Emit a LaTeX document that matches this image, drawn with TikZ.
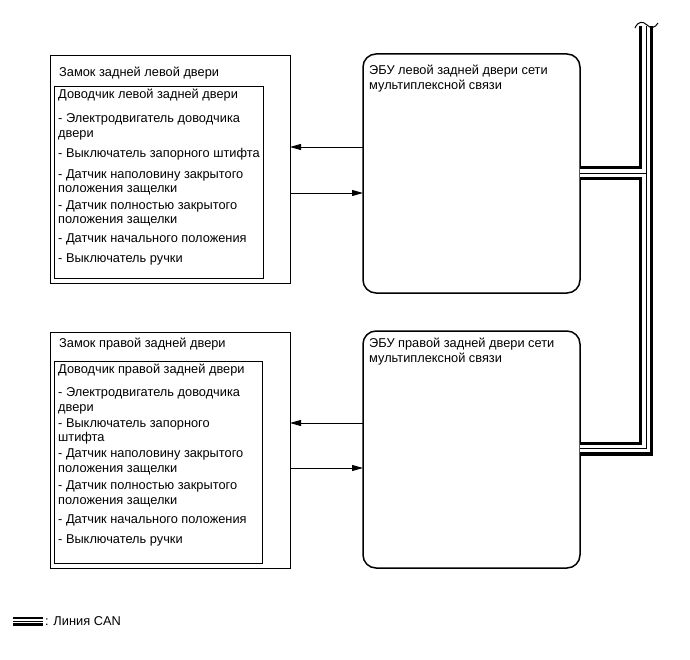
\documentclass[tikz,border=0pt]{standalone}
\usepackage{fontspec}
\setmainfont{Liberation Sans}
\usetikzlibrary{arrows.meta}
\tikzset{
  box/.style={draw=black, line width=0.9pt, anchor=north west, inner sep=0pt, outer sep=0pt},
  ecubox/.style={draw=black, line width=1.5pt, rounded corners=13pt, anchor=north west, inner sep=0pt, outer sep=0pt},
  txt/.style={anchor=base west, inner sep=0pt, font=\fontsize{12.8pt}{14pt}\selectfont},
  arr/.style={line width=0.9pt, -{Triangle[length=11pt,width=6pt]}},
  busblack/.style={line width=14pt, line join=miter, line cap=butt},
  buswhite/.style={white, line width=7.5pt, line join=miter, line cap=butt},
  busthin/.style={line width=0.9pt, line join=miter, line cap=butt},
}
\begin{document}
\begin{tikzpicture}[x=1pt,y=-1pt]
\useasboundingbox (0,0) rectangle (690,660);
% ---- top block
\node[box, minimum width=240pt, minimum height=228pt] (lock1) at (50,55) {};
\node[box, minimum width=209pt, minimum height=192pt] (door1) at (54,86) {};
\node[ecubox, minimum width=217pt, minimum height=239pt] (ecu1) at (363,54) {};
\node[txt] (l1t) at (59,77) {Замок задней левой двери};
\node[txt] (d1t) at (58,99) {Доводчик левой задней двери};
\node[txt] (d1a) at (58,123) {- Электродвигатель доводчика};
\node[txt] (d1b) at (58,137.5) {двери};
\node[txt] (d1c) at (58,157.5) {- Выключатель запорного штифта};
\node[txt] (d1d) at (58,179) {- Датчик наполовину закрытого};
\node[txt] (d1e) at (58,192.5) {положения защелки};
\node[txt] (d1f) at (58,209.5) {- Датчик полностью закрытого};
\node[txt] (d1g) at (58,224) {положения защелки};
\node[txt] (d1h) at (58,242.5) {- Датчик начального положения};
\node[txt] (d1i) at (58,262.5) {- Выключатель ручки};
\node[txt] (e1a) at (369,74.5) {ЭБУ левой задней двери сети};
\node[txt] (e1b) at (369,89.5) {мультиплексной связи};
\draw[arr] (ecu1.west |- 0,147) -- (lock1.east |- 0,147);
\draw[arr] (lock1.east |- 0,193) -- (ecu1.west |- 0,193);
% ---- bottom block
\node[box, minimum width=240pt, minimum height=236pt] (lock2) at (50,332) {};
\node[box, minimum width=208pt, minimum height=202pt] (door2) at (54,361) {};
\node[ecubox, minimum width=217pt, minimum height=237pt] (ecu2) at (363,331) {};
\node[txt] (l2t) at (59,347.5) {Замок правой задней двери};
\node[txt] (d2t) at (58,373.5) {Доводчик правой задней двери};
\node[txt] (d2a) at (58,396.5) {- Электродвигатель доводчика};
\node[txt] (d2b) at (58,411.5) {двери};
\node[txt] (d2c) at (58,427.5) {- Выключатель запорного};
\node[txt] (d2d) at (58,441.5) {штифта};
\node[txt] (d2e) at (58,457.5) {- Датчик наполовину закрытого};
\node[txt] (d2f) at (58,472.5) {положения защелки};
\node[txt] (d2g) at (58,489.5) {- Датчик полностью закрытого};
\node[txt] (d2h) at (58,504.5) {положения защелки};
\node[txt] (d2i) at (58,523.5) {- Датчик начального положения};
\node[txt] (d2j) at (58,543.5) {- Выключатель ручки};
\node[txt] (e2a) at (369,347.5) {ЭБУ правой задней двери сети};
\node[txt] (e2b) at (369,362.5) {мультиплексной связи};
\draw[arr] (ecu2.west |- 0,423) -- (lock2.east |- 0,423);
\draw[arr] (lock2.east |- 0,468) -- (ecu2.west |- 0,468);
% ---- CAN bus
\coordinate (btop) at (646,26);
\coordinate (bcorner) at (646,448.5);
\coordinate (bj) at (646,173);
\draw[busblack] (btop) -- (bcorner) -- (ecu2.east |- bcorner);
\draw[busblack] (ecu1.east |- bj) -- (bj);
\draw[buswhite] (btop) -- (bcorner) -- (ecu2.east |- bcorner);
\draw[buswhite] (ecu1.east |- bj) -- (bj);
\draw[busthin] (btop) -- (bcorner) -- (ecu2.east |- bcorner);
\draw[busthin] (ecu1.east |- bj) -- (bj);
\draw[line width=1pt] (635,28) .. controls (638,21) and (643,21) .. (647,25) .. controls (651,29) and (655,28) .. (658,23);
% ---- legend
\coordinate (lg1) at (13,621);
\coordinate (lg2) at (43,621);
\draw[line width=9pt] (lg1) -- (lg2);
\draw[white, line width=4.5pt] (lg1) -- (lg2);
\draw[line width=0.8pt] (lg1) -- (lg2);
\node[txt] (leg) at (45,625.5) {: Линия CAN};
\end{tikzpicture}
\end{document}
